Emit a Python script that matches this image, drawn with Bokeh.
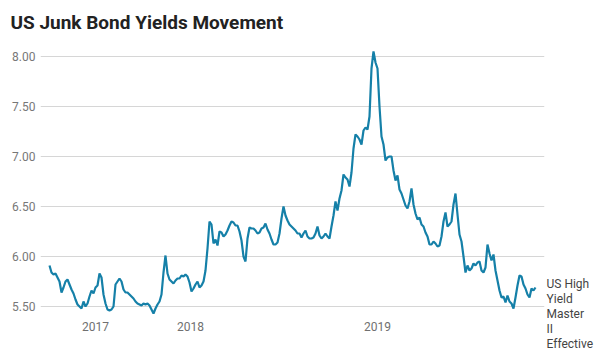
from bokeh.plotting import figure
from bokeh.models import Range1d, FixedTicker, NumeralTickFormatter, LinearAxis
from bokeh.embed import file_html
from bokeh.resources import INLINE

title_text = "US Junk Bond Yields Movement"
series_name = ["US High", "Yield", "Master", "II", "Effective"]

# yield observations (evenly spaced in time)
yields = [
    5.91, 5.84, 5.82, 5.83, 5.79, 5.75, 5.64, 5.69, 5.75, 5.77,
    5.72, 5.67, 5.63, 5.57, 5.52, 5.50, 5.48, 5.55, 5.50, 5.53,
    5.60, 5.66, 5.63, 5.69, 5.71, 5.83, 5.79, 5.62, 5.53, 5.47,
    5.46, 5.47, 5.50, 5.72, 5.75, 5.78, 5.75, 5.67, 5.64, 5.64,
    5.62, 5.60, 5.58, 5.55, 5.53, 5.52, 5.51, 5.53, 5.52, 5.53,
    5.51, 5.47, 5.43, 5.48, 5.52, 5.55, 5.62, 5.84, 6.01, 5.83,
    5.77, 5.75, 5.73, 5.76, 5.78, 5.78, 5.81, 5.80, 5.82, 5.80,
    5.74, 5.65, 5.68, 5.72, 5.75, 5.69, 5.71, 5.75, 5.86, 6.08,
    6.35, 6.32, 6.13, 6.17, 6.11, 6.25, 6.24, 6.20, 6.22, 6.26,
    6.31, 6.35, 6.34, 6.31, 6.31, 6.25, 6.16, 6.00, 5.95, 6.18,
    6.29, 6.28, 6.28, 6.26, 6.23, 6.24, 6.28, 6.29, 6.33, 6.27,
    6.23, 6.17, 6.12, 6.12, 6.14, 6.23, 6.38, 6.50, 6.41, 6.36,
    6.32, 6.30, 6.28, 6.26, 6.23, 6.23, 6.19, 6.23, 6.26, 6.20,
    6.18, 6.18, 6.19, 6.23, 6.30, 6.21, 6.18, 6.20, 6.23, 6.20,
    6.18, 6.30, 6.41, 6.55, 6.46, 6.58, 6.66, 6.82, 6.79, 6.77,
    6.70, 6.84, 7.08, 7.22, 7.20, 7.17, 7.12, 7.26, 7.29, 7.27,
    7.40, 7.88, 8.05, 7.94, 7.88, 7.50, 7.20, 7.12, 6.96, 6.99,
    7.00, 7.00, 6.86, 6.76, 6.81, 6.67, 6.63, 6.57, 6.51, 6.48,
    6.55, 6.68, 6.52, 6.43, 6.37, 6.39, 6.32, 6.30, 6.24, 6.20,
    6.12, 6.12, 6.15, 6.13, 6.10, 6.11, 6.20, 6.35, 6.44, 6.30,
    6.32, 6.35, 6.52, 6.63, 6.42, 6.22, 6.15, 6.00, 5.84, 5.91,
    5.86, 5.88, 5.93, 5.91, 5.94, 5.95, 5.86, 5.84, 5.89, 6.12,
    6.03, 5.96, 6.02, 5.86, 5.76, 5.66, 5.59, 5.60, 5.54, 5.61,
    5.55, 5.53, 5.48, 5.59, 5.71, 5.81, 5.80, 5.72, 5.68, 5.62,
    5.59, 5.68, 5.66, 5.69,
]
obs = list(range(len(yields)))

year_labels = ["2017", "2018", "2019"]
year_positions = [23, 70.5, 164]
y_ticks = [5.5, 6.0, 6.5, 7.0, 7.5, 8.0]

FONT = "Roboto"
LINE_COLOR = "#1580a8"

p = figure(width=602, height=354, output_backend="svg", toolbar_location=None,
           x_range=Range1d(-4.5, 247.5), y_range=Range1d(5.35, 8.10),
           min_border_left=40, min_border_right=58, min_border_top=46,
           min_border_bottom=33)
p.outline_line_color = None
p.background_fill_color = "white"
p.border_fill_color = "white"

p.title.text = title_text
p.title.align = "left"
p.title.vertical_align = "top"
p.title.offset = -30
p.title.standoff = 21
p.title.text_font = FONT
p.title.text_font_size = "19px"
p.title.text_font_style = "bold"
p.title.text_color = "#222222"

p.line(obs, yields, line_color=LINE_COLOR, line_width=2.2)

def style_axis(ax, color):
    ax.axis_line_color = None
    ax.major_tick_line_color = None
    ax.minor_tick_line_color = None
    ax.major_tick_out = 0
    ax.major_tick_in = 0
    ax.major_label_text_font = FONT
    ax.major_label_text_font_size = "12px"
    ax.major_label_text_color = color

yax = p.yaxis[0]
yax.ticker = FixedTicker(ticks=y_ticks)
yax.formatter = NumeralTickFormatter(format="0.00")
style_axis(yax, "#777777")
yax.major_label_standoff = 5

xax = p.xaxis[0]
xax.ticker = FixedTicker(ticks=year_positions)
xax.major_label_overrides = {pos: lab for pos, lab in zip(year_positions, year_labels)}
style_axis(xax, "#707070")
xax.major_label_standoff = 0

p.xgrid.grid_line_color = None
p.ygrid.ticker = FixedTicker(ticks=y_ticks)
p.ygrid.grid_line_color = "#d6d6d6"
p.ygrid.grid_line_width = 1

# series name as a label at the end of the line (right axis, single tick)
name_tick = 5.352
rax = LinearAxis(ticker=FixedTicker(ticks=[name_tick]))
rax.major_label_overrides = {name_tick: "\n".join(series_name)}
style_axis(rax, "#444444")
rax.major_label_text_line_height = 1.07
rax.major_label_standoff = 2
p.add_layout(rax, "right")

open("out.html", "w").write(file_html(p, INLINE))
